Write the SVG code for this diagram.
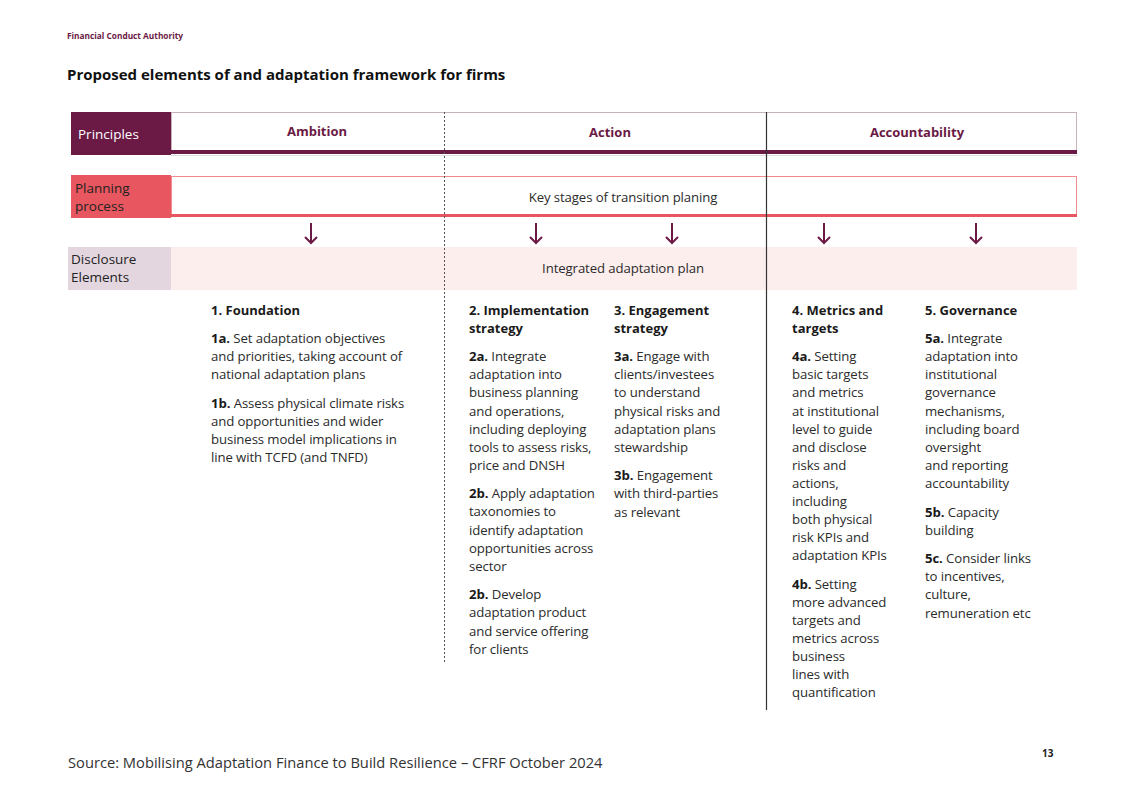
<svg xmlns="http://www.w3.org/2000/svg" width="1123" height="794" viewBox="0 0 1123 794">
<style>
text{font-family:"Open Sans","Liberation Sans",sans-serif;fill:#2b2b2b}
.hd{font-size:13px;font-weight:bold;fill:#6b1a45}
.lb{font-size:13.5px}
.t{font-size:13px;font-weight:bold;fill:#1a1a1a}
.b{font-size:13.2px;fill:#2b2b2b;letter-spacing:-0.1px}
.b tspan.k{font-weight:bold;fill:#1a1a1a}
.arr{stroke:#6b1a45;stroke-width:2;fill:none}
</style>
<rect width="1123" height="794" fill="#fff"/>
<text x="67" y="39" style="font-size:8.3px;font-weight:bold;fill:#6b1a45">Financial Conduct Authority</text>
<text x="67" y="80" style="font-size:15px;font-weight:bold;fill:#111">Proposed elements of and adaptation framework for firms</text>

<g id="principles">
<rect x="171.5" y="112.5" width="905" height="40" fill="#fff" stroke="#c7b3be" stroke-width="1"/>
<rect x="71" y="112" width="100" height="43" fill="#6b1a45"/>
<rect x="171" y="150" width="906" height="4" fill="#6b1a45"/>
<line x1="171" y1="155.5" x2="1077" y2="155.5" stroke="#ddd" stroke-width="1"/>
<text x="78" y="139" class="lb" style="fill:#fff">Principles</text>
<text x="317" y="136" class="hd" text-anchor="middle">Ambition</text>
<text x="610" y="137" class="hd" text-anchor="middle">Action</text>
<text x="917" y="137" class="hd" text-anchor="middle">Accountability</text>
</g>

<g id="planning">
<rect x="171.5" y="176.5" width="905" height="38" fill="#fff" stroke="#f08a8f" stroke-width="1"/>
<rect x="71" y="175" width="100" height="43" fill="#e8575f"/>
<rect x="171" y="214" width="906" height="3" fill="#e8575f"/>
<text x="75" y="193" class="lb" style="fill:#222">Planning</text>
<text x="75" y="211" class="lb" style="fill:#222">process</text>
<text x="623" y="202" class="b" text-anchor="middle">Key stages of transition planing</text>
</g>

<g id="disclosure">
<rect x="68" y="247" width="103" height="43" fill="#e3d6de"/>
<rect x="171" y="247" width="906" height="43" fill="#fdeeee"/>
<text x="71" y="264" class="lb" style="fill:#222">Disclosure</text>
<text x="71" y="282" class="lb" style="fill:#222">Elements</text>
<text x="623" y="273" class="b" text-anchor="middle">Integrated adaptation plan</text>
</g>

<g id="connectors">
<line x1="444.5" y1="112" x2="444.5" y2="662" stroke="#555" stroke-width="1" stroke-dasharray="2,2"/>
<line x1="766.5" y1="112" x2="766.5" y2="710" stroke="#333" stroke-width="1.2"/>
<g class="arr">
<path d="M311 223v20M305 237l6 6 6-6"/>
<path d="M536 223v20M530 237l6 6 6-6"/>
<path d="M672 223v20M666 237l6 6 6-6"/>
<path d="M824 223v20M818 237l6 6 6-6"/>
<path d="M976 223v20M970 237l6 6 6-6"/>
</g>
</g>

<g id="col1">
<text x="211" y="315" class="t">1. Foundation</text>
<text class="b" x="211" y="343"><tspan class="k">1a.</tspan> Set adaptation objectives</text>
<text class="b" x="211" y="361">and priorities, taking account of</text>
<text class="b" x="211" y="379">national adaptation plans</text>
<text class="b" x="211" y="408"><tspan class="k">1b.</tspan> Assess physical climate risks</text>
<text class="b" x="211" y="426">and opportunities and wider</text>
<text class="b" x="211" y="444">business model implications in</text>
<text class="b" x="211" y="462">line with TCFD (and TNFD)</text>
</g>

<g id="col2">
<text x="469" y="315" class="t">2. Implementation</text>
<text x="469" y="333" class="t">strategy</text>
<text class="b" x="469" y="361"><tspan class="k">2a.</tspan> Integrate</text>
<text class="b" x="469" y="379">adaptation into</text>
<text class="b" x="469" y="397">business planning</text>
<text class="b" x="469" y="416">and operations,</text>
<text class="b" x="469" y="434">including deploying</text>
<text class="b" x="469" y="452">tools to assess risks,</text>
<text class="b" x="469" y="470">price and DNSH</text>
<text class="b" x="469" y="498"><tspan class="k">2b.</tspan> Apply adaptation</text>
<text class="b" x="469" y="516">taxonomies to</text>
<text class="b" x="469" y="535">identify adaptation</text>
<text class="b" x="469" y="553">opportunities across</text>
<text class="b" x="469" y="571">sector</text>
<text class="b" x="469" y="599"><tspan class="k">2b.</tspan> Develop</text>
<text class="b" x="469" y="617">adaptation product</text>
<text class="b" x="469" y="636">and service offering</text>
<text class="b" x="469" y="654">for clients</text>
</g>

<g id="col3">
<text x="614" y="315" class="t">3. Engagement</text>
<text x="614" y="333" class="t">strategy</text>
<text class="b" x="614" y="361"><tspan class="k">3a.</tspan> Engage with</text>
<text class="b" x="614" y="379">clients/investees</text>
<text class="b" x="614" y="397">to understand</text>
<text class="b" x="614" y="416">physical risks and</text>
<text class="b" x="614" y="434">adaptation plans</text>
<text class="b" x="614" y="452">stewardship</text>
<text class="b" x="614" y="480"><tspan class="k">3b.</tspan> Engagement</text>
<text class="b" x="614" y="498">with third-parties</text>
<text class="b" x="614" y="517">as relevant</text>
</g>

<g id="col4">
<text x="792" y="315" class="t">4. Metrics and</text>
<text x="792" y="333" class="t">targets</text>
<text class="b" x="792" y="361"><tspan class="k">4a.</tspan> Setting</text>
<text class="b" x="792" y="379">basic targets</text>
<text class="b" x="792" y="397">and metrics</text>
<text class="b" x="792" y="416">at institutional</text>
<text class="b" x="792" y="434">level to guide</text>
<text class="b" x="792" y="452">and disclose</text>
<text class="b" x="792" y="470">risks and</text>
<text class="b" x="792" y="488">actions,</text>
<text class="b" x="792" y="506">including</text>
<text class="b" x="792" y="524">both physical</text>
<text class="b" x="792" y="542">risk KPIs and</text>
<text class="b" x="792" y="560">adaptation KPIs</text>
<text class="b" x="792" y="589"><tspan class="k">4b.</tspan> Setting</text>
<text class="b" x="792" y="607">more advanced</text>
<text class="b" x="792" y="625">targets and</text>
<text class="b" x="792" y="643">metrics across</text>
<text class="b" x="792" y="661">business</text>
<text class="b" x="792" y="679">lines with</text>
<text class="b" x="792" y="697">quantification</text>
</g>

<g id="col5">
<text x="925" y="315" class="t">5. Governance</text>
<text class="b" x="925" y="343"><tspan class="k">5a.</tspan> Integrate</text>
<text class="b" x="925" y="361">adaptation into</text>
<text class="b" x="925" y="379">institutional</text>
<text class="b" x="925" y="397">governance</text>
<text class="b" x="925" y="416">mechanisms,</text>
<text class="b" x="925" y="434">including board</text>
<text class="b" x="925" y="452">oversight</text>
<text class="b" x="925" y="470">and reporting</text>
<text class="b" x="925" y="488">accountability</text>
<text class="b" x="925" y="517"><tspan class="k">5b.</tspan> Capacity</text>
<text class="b" x="925" y="535">building</text>
<text class="b" x="925" y="563"><tspan class="k">5c.</tspan> Consider links</text>
<text class="b" x="925" y="581">to incentives,</text>
<text class="b" x="925" y="599">culture,</text>
<text class="b" x="925" y="618">remuneration etc</text>
</g>

<text x="68" y="768" style="font-size:14.7px;fill:#333">Source: Mobilising Adaptation Finance to Build Resilience – CFRF October 2024</text>
<text x="1042" y="757" style="font-size:10px;font-weight:bold;fill:#222">13</text>
</svg>
